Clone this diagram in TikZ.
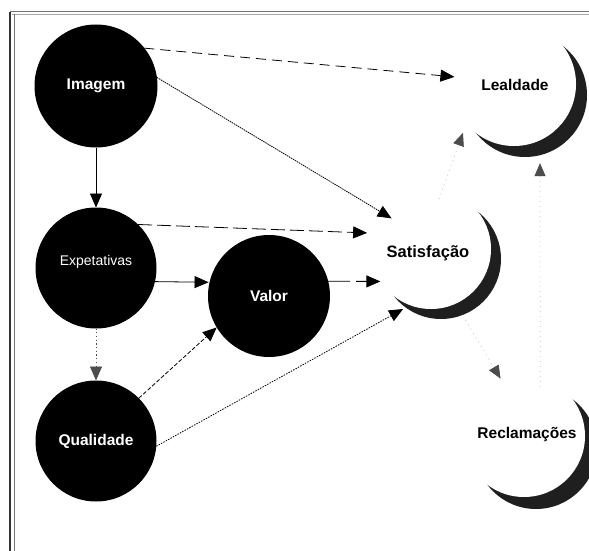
\documentclass[tikz,border=0pt]{standalone}
\usepackage{fontspec}
\setmainfont{Liberation Sans}
\usetikzlibrary{arrows.meta}

\begin{document}
\begin{tikzpicture}[x=1pt,y=-1pt,
  blob/.style={circle,fill=black,text=white,inner sep=0pt,outer sep=0pt,
    font=\bfseries\fontsize{15.5}{18}\selectfont},
  ball/.style={circle,inner sep=0pt,outer sep=0pt},
  lbl/.style={font=\bfseries\fontsize{15.5}{18}\selectfont,text=black,inner sep=0pt},
  shadow/.style={fill=black!88},
  link/.style={-{Triangle[length=14pt,width=12pt]},line width=0.8pt,black},
  faint/.style={-{Triangle[length=13pt,width=11pt,color=black!70]},line width=0.7pt,
    draw=black!22,dash pattern=on 1pt off 4pt}
]
\useasboundingbox (0,0) rectangle (589,551);
\fill[white] (0,0) rectangle (589,551);

% window frame
\draw[black!55,line width=1pt] (10,12) -- (589,12);
\draw[black!35,line width=1pt] (12,14.5) -- (589,14.5);
\draw[black!80,line width=1.2pt] (10,12) -- (10,551);
\draw[black!55,line width=0.8pt] (14,14.5) -- (14,551);

% dark constructs
\node[blob,minimum size=123pt] (img) at (96,86) {Imagem};
\node[blob,minimum size=121pt] (exp) at (96,268)
  {\raisebox{6pt}[\height][\depth]{\mdseries\fontsize{14}{16}\selectfont Expetativas}};
\node[blob,minimum size=121pt] (qua) at (96,441) {Qualidade};
\node[blob,minimum size=122pt] (val) at (269,296) {Valor};

% light constructs
\node[ball,minimum size=124pt] (lea) at (525,95) {};
\node[ball,minimum size=120pt] (sat) at (441,259) {};
\node[ball,minimum size=122pt] (rec) at (536,448) {};

% shadow crescents: a dark disc covered by a shifted white disc
\fill[shadow] (lea.center) circle[radius=62pt];
\fill[white] ([shift={(-11,-11)}]lea.center) circle[radius=62pt];
\fill[shadow] (sat.center) circle[radius=60pt];
\fill[white] ([shift={(-10,-10)}]sat.center) circle[radius=60pt];
\fill[shadow] (rec.center) circle[radius=61pt];
\fill[white] ([shift={(-12,-12)}]rec.center) circle[radius=61pt];

% captions of the light constructs
\node[lbl] (leaT) at ([shift={(-10,-10)}]lea.center) {Lealdade};
\node[lbl,font=\bfseries\fontsize{16.5}{18}\selectfont] (satT) at ([shift={(-13,-6)}]sat.center) {Satisfação};
\node[lbl] (recT) at ([shift={(-9,-14)}]rec.center) {Reclamações};

% paths
\draw[link,dash pattern=on 10pt off 6pt,shorten >=11pt] (img.38) -- (lea.164);
\draw[link,dash pattern=on 1.5pt off 0.8pt,shorten >=4pt] (img.8) -- (sat.140);
\draw[link] (img.south) -- (exp.north);
\draw[link,dash pattern=on 14pt off 5pt,shorten >=19.5pt] (exp.46) -- (sat.155);
\draw[link,shorten >=1pt] (exp.-13) -- (val.167);
\draw[link,draw=black!70,dash pattern=on 1.2pt off 2.5pt] (exp.south) -- (qua.north);
\draw[link,dash pattern=on 4pt off 2pt] (qua.45) -- (val.211);
\draw[link,dash pattern=on 1.5pt off 1.2pt,shorten >=3pt] (qua.-5) -- (sat.234);
\draw[link,dash pattern=on 22pt off 6pt,shorten >=5pt] (val.14) -- (sat.202);

\draw[faint,shorten >=14.5pt] (sat.92) -- (lea.203);
\draw[faint,shorten >=8pt] (rec.86) -- (lea.-76);
\draw[faint,shorten <=6pt,shorten >=17pt] (sat.-69) -- (rec.116);
\end{tikzpicture}
\end{document}
